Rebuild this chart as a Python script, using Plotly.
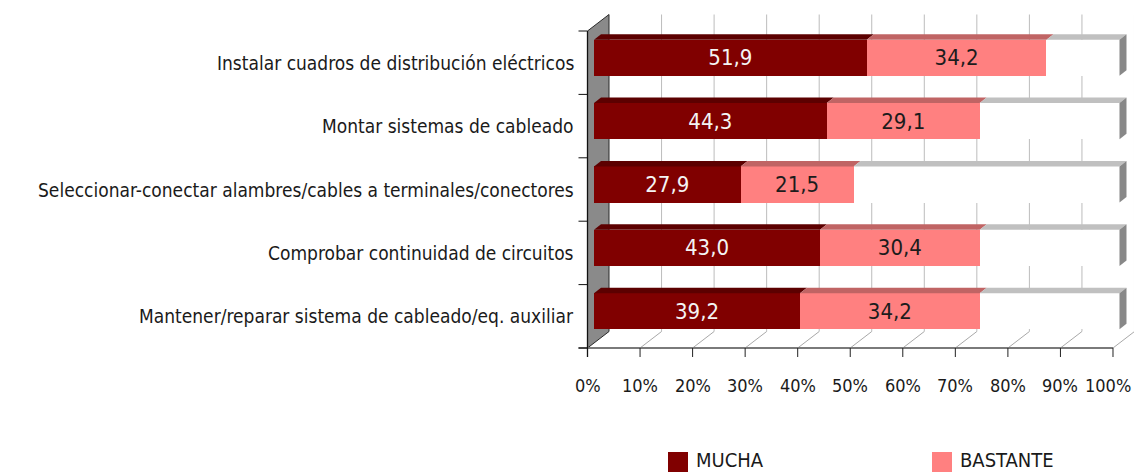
import plotly.graph_objects as go

# ---------------- data ----------------
categories = [
    "Instalar cuadros de distribución eléctricos",
    "Montar sistemas de cableado",
    "Seleccionar-conectar alambres/cables a terminales/conectores",
    "Comprobar continuidad de circuitos",
    "Mantener/reparar sistema de cableado/eq. auxiliar",
]
mucha = [51.9, 44.3, 27.9, 43.0, 39.2]
bastante = [34.2, 29.1, 21.5, 30.4, 34.2]
resto = [13.9, 26.6, 50.6, 26.6, 26.6]
series_names = ["MUCHA", "BASTANTE"]
tick_values = [0, 10, 20, 30, 40, 50, 60, 70, 80, 90, 100]
tick_labels = ["0%", "10%", "20%", "30%", "40%", "50%", "60%", "70%", "80%", "90%", "100%"]

# ---------------- style ----------------
FONT = "DejaVu Sans Condensed, Liberation Sans Narrow, Arial Narrow, sans-serif"
C_MUCHA, C_MUCHA_TOP = "#800000", "#5c0000"
C_BAST, C_BAST_TOP = "#ff8080", "#c06464"
C_REST, C_REST_TOP, C_SIDE = "#ffffff", "#c0c0c0", "#888888"

W_FIG, H_FIG = 1134, 472
L, R, T, B = 594, 4, 26, 129
XMAX = 102
PW = W_FIG - L - R
PH = H_FIG - T - B
PX_PER_X = PW / XMAX
PX_PER_Y = PH / 5.0

def pxx(px):
    return (px - L) / PW

def pxy(py):
    return (H_FIG - B - py) / PH

pos = [len(categories) - 1 - i for i in range(len(categories))]
BAR_W = 0.57

def fmt(v):
    return f"{v:.1f}".replace(".", ",")

fig = go.Figure()
fig.add_trace(go.Bar(
    y=pos, x=mucha, orientation="h", name=series_names[0], width=BAR_W,
    marker=dict(color=C_MUCHA, line=dict(width=0)),
    text=[fmt(v) for v in mucha], textposition="inside", insidetextanchor="middle",
    textfont=dict(family=FONT, size=22, color="#f4f4f4"), constraintext="none",
    showlegend=False, hoverinfo="skip"))
fig.add_trace(go.Bar(
    y=pos, x=bastante, orientation="h", name=series_names[1], width=BAR_W,
    marker=dict(color=C_BAST, line=dict(width=0)),
    text=[fmt(v) for v in bastante], textposition="inside", insidetextanchor="middle",
    textfont=dict(family=FONT, size=22, color="#1c1c1c"), constraintext="none",
    showlegend=False, hoverinfo="skip"))
fig.add_trace(go.Bar(
    y=pos, x=resto, orientation="h", name="resto", width=BAR_W,
    marker=dict(color=C_REST, line=dict(width=0)),
    showlegend=False, hoverinfo="skip"))

shapes = []
annotations = []

# 3D geometry in pixels
DX_FULL, DY_FULL = 21.5, 16.5          # full depth of the box
FX_OFF, FY_OFF = 6.5, 5.0              # bar front face offset from front plane
BDX, BDY = 7.0, 5.5                    # bar depth

front_floor_y = H_FIG - B + FY_OFF     # pixel y of front floor line
top_front_y = T + FY_OFF
def xf(v):
    return L - FX_OFF + v * PX_PER_X

# left wall
x0, x1 = xf(0), xf(0) + DX_FULL
shapes.append(dict(type="path", xref="paper", yref="paper", layer="below",
    path=f"M{pxx(x0)},{pxy(top_front_y)} L{pxx(x1)},{pxy(top_front_y-DY_FULL)} "
         f"L{pxx(x1)},{pxy(front_floor_y-DY_FULL)} L{pxx(x0)},{pxy(front_floor_y)} Z",
    fillcolor="#8a8a8a", line=dict(color="#2a2a2a", width=1)))

# back wall gridlines and floor diagonals
for v in tick_values[1:]:
    xb = xf(v) + DX_FULL
    shapes.append(dict(type="line", xref="paper", yref="paper", layer="below",
        x0=pxx(xb), x1=pxx(xb), y0=pxy(top_front_y - DY_FULL), y1=pxy(front_floor_y - DY_FULL),
        line=dict(color="#bcbcbc", width=1)))
    shapes.append(dict(type="line", xref="paper", yref="paper", layer="below",
        x0=pxx(xf(v)), x1=pxx(xb), y0=pxy(front_floor_y), y1=pxy(front_floor_y - DY_FULL),
        line=dict(color="#a8a8a8", width=1)))

# front floor axis line and ticks
shapes.append(dict(type="line", xref="paper", yref="paper", layer="above",
    x0=pxx(xf(0) - 9), x1=pxx(xf(100)), y0=pxy(front_floor_y), y1=pxy(front_floor_y),
    line=dict(color="#7a7a7a", width=2)))
for v in tick_values:
    shapes.append(dict(type="line", xref="paper", yref="paper", layer="above",
        x0=pxx(xf(v)), x1=pxx(xf(v)), y0=pxy(front_floor_y), y1=pxy(front_floor_y + 9),
        line=dict(color="#222222", width=1)))
# left vertical axis with category ticks
shapes.append(dict(type="line", xref="paper", yref="paper", layer="above",
    x0=pxx(xf(0)), x1=pxx(xf(0)), y0=pxy(top_front_y), y1=pxy(front_floor_y + 9),
    line=dict(color="#111111", width=1.3)))
for k in range(len(categories) + 1):
    yy = top_front_y + k * PX_PER_Y
    shapes.append(dict(type="line", xref="paper", yref="paper", layer="above",
        x0=pxx(xf(0) - 9), x1=pxx(xf(0)), y0=pxy(yy), y1=pxy(yy),
        line=dict(color="#111111", width=1)))

# bar top faces and end side faces (data coordinates)
dxu = BDX / PX_PER_X
dyu = BDY / PX_PER_Y
for i, p in enumerate(pos):
    segs = [(0, mucha[i], C_MUCHA_TOP),
            (mucha[i], mucha[i] + bastante[i], C_BAST_TOP),
            (mucha[i] + bastante[i], mucha[i] + bastante[i] + resto[i], C_REST_TOP)]
    yt = p + BAR_W / 2
    yb = p - BAR_W / 2
    for a, b, col in segs:
        shapes.append(dict(type="path", xref="x", yref="y", layer="above",
            path=f"M{a},{yt} L{a+dxu},{yt+dyu} L{b+dxu},{yt+dyu} L{b},{yt} Z",
            fillcolor=col, line=dict(width=0)))
    end = segs[-1][1]
    shapes.append(dict(type="path", xref="x", yref="y", layer="above",
        path=f"M{end},{yt} L{end+dxu},{yt+dyu} L{end+dxu},{yb+dyu} L{end},{yb} Z",
        fillcolor=C_SIDE, line=dict(width=0)))

# category labels
for i, p in enumerate(pos):
    annotations.append(dict(xref="paper", yref="y", x=pxx(576), y=p - FY_OFF / PX_PER_Y,
        text=categories[i], showarrow=False, xanchor="right", yanchor="middle",
        font=dict(family=FONT, size=19, color="#1a1a1a")))

# x tick labels (last one kept inside the page edge)
for j, (v, t) in enumerate(zip(tick_values, tick_labels)):
    last = j == len(tick_values) - 1
    annotations.append(dict(xref="paper", yref="paper",
        x=pxx(W_FIG - 1) if last else pxx(xf(v)), y=pxy(385),
        text=t, showarrow=False, xanchor="right" if last else "center", yanchor="middle",
        font=dict(family=FONT, size=18, color="#1a1a1a")))

# legend
for name, col, sx in [(series_names[0], C_MUCHA, 668), (series_names[1], C_BAST, 932)]:
    shapes.append(dict(type="rect", xref="paper", yref="paper", layer="above",
        x0=pxx(sx), x1=pxx(sx + 20), y0=pxy(452), y1=pxy(474),
        fillcolor=col, line=dict(width=0)))
    annotations.append(dict(xref="paper", yref="paper", x=pxx(sx + 26), y=pxy(460),
        text=name, showarrow=False, xanchor="left", yanchor="middle",
        font=dict(family=FONT, size=20, color="#1a1a1a")))

fig.update_layout(
    barmode="stack",
    width=W_FIG, height=H_FIG,
    margin=dict(l=L, r=R, t=T, b=B, pad=0),
    paper_bgcolor="white", plot_bgcolor="rgba(0,0,0,0)",
    xaxis=dict(range=[0, XMAX], showgrid=False, zeroline=False, showticklabels=False,
               showline=False, ticks=""),
    yaxis=dict(range=[-0.5, 4.5], showgrid=False, zeroline=False, showticklabels=False,
               showline=False, ticks=""),
    shapes=shapes, annotations=annotations,
    showlegend=False,
    uniformtext=dict(mode=False),
)
fig.write_html("out.html", config={"displayModeBar": False},
               post_script="document.body.style.margin='0px';document.body.style.overflow='hidden';")
